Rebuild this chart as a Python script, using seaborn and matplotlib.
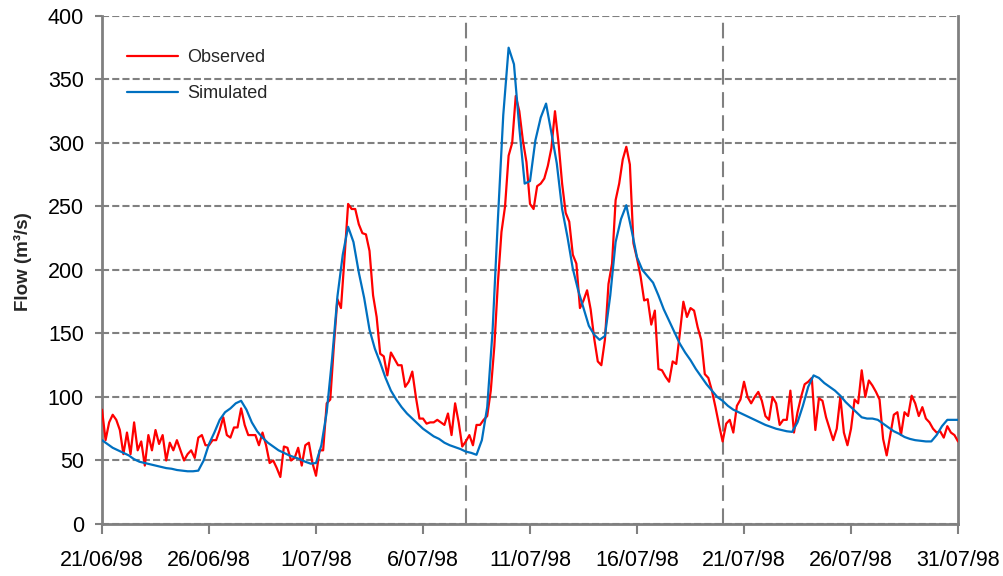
import pandas as pd
import numpy as np
import seaborn as sns
import matplotlib.pyplot as plt

# Observed flow (m3/s), 4-hourly from 21/06/98 00:00
observed = [
    90, 66, 80, 86, 82, 74,
    55, 72, 55, 80, 58, 65,
    46, 70, 58, 74, 63, 70,
    50, 64, 58, 66, 58, 50,
    55, 58, 52, 68, 70, 62,
    62, 66, 66, 74, 84, 70,
    68, 76, 76, 91, 78, 70,
    70, 70, 62, 72, 62, 48,
    50, 44, 37, 61, 60, 50,
    52, 60, 46, 62, 64, 48,
    38, 58, 58, 95, 98, 140,
    177, 170, 210, 252, 248, 248,
    236, 229, 228, 215, 180, 163,
    134, 132, 117, 135, 130, 125,
    125, 108, 112, 120, 100, 83,
    83, 79, 80, 80, 82, 80,
    78, 87, 70, 95, 80, 61,
    65, 70, 62, 78, 78, 82,
    85, 105, 140, 190, 230, 250,
    290, 300, 337, 325, 302, 285,
    252, 248, 266, 268, 272, 282,
    296, 325, 300, 268, 245, 238,
    212, 205, 170, 176, 184, 169,
    146, 128, 125, 145, 189, 205,
    255, 268, 287, 297, 283, 221,
    209, 195, 176, 177, 157, 168,
    122, 121, 116, 112, 128, 126,
    150, 175, 163, 170, 168, 155,
    145, 118, 115, 105, 92, 78,
    65, 79, 82, 72, 93, 98,
    112, 100, 95, 100, 104, 97,
    85, 82, 100, 95, 78, 82,
    82, 105, 72, 88, 100, 110,
    112, 115, 74, 99, 97, 84,
    75, 66, 75, 100, 72, 62,
    75, 98, 95, 121, 100, 113,
    109, 104, 98, 67, 54, 70,
    86, 88, 70, 88, 85, 101,
    95, 85, 92, 83, 80, 75,
    72, 73, 68, 77, 72, 70,
    65,
]

# Simulated flow (m3/s), 6-hourly from 21/06/98 00:00
simulated = [
    66, 63, 60, 58,
    56, 54, 51, 49,
    48, 47, 46, 45,
    44, 43.5, 42.5, 42,
    41.5, 41.5, 42, 50,
    63, 72, 82, 88,
    91, 95, 97, 90,
    80, 73, 68, 64,
    61, 58, 56, 54,
    52.5, 51, 49, 47.5,
    48, 62, 88, 130,
    179, 212, 234, 222,
    198, 178, 153, 138,
    127, 115, 105, 98,
    92, 87, 83, 79,
    75, 72, 69, 67,
    64, 62, 60.5, 59,
    57, 56, 54.5, 66,
    92, 152, 240, 322,
    375, 362, 312, 268,
    270, 302, 320, 331,
    308, 284, 248, 226,
    201, 184, 170, 156,
    149, 145, 148, 180,
    222, 240, 251, 231,
    210, 200, 195, 190,
    180, 169, 160, 151,
    142, 135, 129, 122,
    116, 110, 105, 100,
    97, 93, 90, 88,
    86, 84, 82, 80,
    78, 76.5, 75, 74,
    73, 72.5, 80, 93,
    108, 117, 115, 111,
    108, 105, 101, 96,
    92, 88, 84, 83,
    83, 82, 79, 76,
    73, 71, 68.5, 67,
    66, 65.5, 65, 65,
    70, 77, 82, 82,
    82,
]

series_names = ["Observed", "Simulated"]
series_colors = ["#FF0000", "#0070C0"]
period_breaks = ["1998-07-08", "1998-07-20"]
x_tick_labels = ["21/06/98", "26/06/98", "1/07/98", "6/07/98", "11/07/98",
                 "16/07/98", "21/07/98", "26/07/98", "31/07/98"]
y_ticks = [0, 50, 100, 150, 200, 250, 300, 350, 400]

start = pd.Timestamp("1998-06-21")
end = pd.Timestamp("1998-07-31")
obs_df = pd.DataFrame({"time": pd.date_range(start, periods=len(observed), freq="4h"),
                       "flow": observed, "series": series_names[0]})
sim_df = pd.DataFrame({"time": pd.date_range(start, periods=len(simulated), freq="6h"),
                       "flow": simulated, "series": series_names[1]})
df = pd.concat([obs_df, sim_df], ignore_index=True)

sns.set_theme(style="white")
plt.rcParams["font.family"] = ["Liberation Sans", "DejaVu Sans"]

grey = "#808080"
fig = plt.figure(figsize=(10.04, 5.76), dpi=100)
ax = fig.add_axes([0.1016, 0.0903, 0.8526, 0.882])

# dashed horizontal grid
ax.set_axisbelow(True)
ax.yaxis.grid(True, color=grey, linewidth=1.5, linestyle=(0, (3.4, 1.5)))
ax.xaxis.grid(False)

# period separators
for b in period_breaks:
    ax.axvline(pd.Timestamp(b), color=grey, linewidth=1.5,
               linestyle=(0, (7.5, 3.6)), zorder=1)

sns.lineplot(data=df, x="time", y="flow", hue="series",
             palette=dict(zip(series_names, series_colors)),
             linewidth=1.6, estimator=None, ax=ax, zorder=3)

ax.set_xlim(start, end)
ax.set_ylim(0, 400)
tick_dates = pd.date_range(start, end, freq="5D")
ax.set_xticks(tick_dates)
ax.set_xticklabels(x_tick_labels, fontsize=15.5, color="black")
ax.set_yticks(y_ticks)
ax.set_yticklabels([str(v) for v in y_ticks], fontsize=15.5, color="black")

ax.tick_params(axis="x", direction="out", length=7, width=1.5, color=grey, pad=12, bottom=True)
ax.tick_params(axis="y", direction="out", length=5, width=1.5, color=grey, pad=8, left=True)

for side in ["left", "bottom", "right"]:
    ax.spines[side].set_visible(True)
    ax.spines[side].set_color(grey)
    ax.spines[side].set_linewidth(2)
ax.spines["top"].set_visible(False)

ax.set_xlabel("")
ax.set_ylabel("Flow (m³/s)", fontsize=13.5, fontweight="bold")
ax.yaxis.set_label_coords(-0.082, 0.516)

leg = ax.legend(title=None, frameon=False, loc="upper left",
                bbox_to_anchor=(0.0105, 0.966), fontsize=13,
                handlelength=2.8, labelspacing=1.05, handletextpad=0.5)
for line in leg.get_lines():
    line.set_linewidth(1.6)

fig.savefig("out.png", dpi=100)
